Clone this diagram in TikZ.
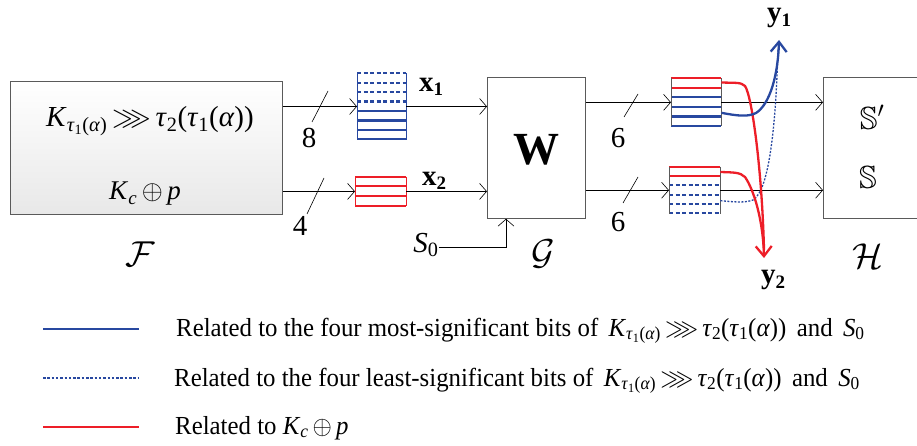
\documentclass[tikz,border=0pt]{standalone}
\usepackage{fix-cm}
\usepackage{amsmath,amssymb}
\usepackage{fontspec}
\setmainfont{Liberation Serif}
\usetikzlibrary{arrows.meta,calc}
\definecolor{myblue}{RGB}{40,72,160}
\definecolor{myred}{RGB}{237,30,40}
\definecolor{boxgray}{RGB}{90,90,90}
\newcommand{\bsub}[2]{\textbf{#1}\raisebox{-0.35ex}{\fontsize{19}{20}\selectfont\textbf{#2}}}
\newcommand{\Kexpr}{\textit{K}\textsubscript{\textit{τ}\textsubscript{1}(\textit{α})}\,$\ggg$\,\textit{τ}\textsubscript{2}(\textit{τ}\textsubscript{1}(\textit{α}))}
\newcommand{\Kcp}{\textit{K}\textsubscript{\textit{c}}\,$\oplus$\,\textit{p}}
\newcommand{\Szero}{\textit{S}\textsubscript{0}}
\begin{document}
\begin{tikzpicture}[x=1pt,y=-1pt,
  box/.style={draw=boxgray, line width=0.8pt, inner sep=0pt, anchor=north west},
  reg/.style={inner sep=0pt, anchor=north west},
  conn/.style={line width=0.6pt, -{Straight Barb[length=7pt,width=16pt,line width=0.6pt]}},
  slash/.style={line width=0.6pt},
  lbl/.style={inner sep=0pt, font=\fontsize{29}{32}\selectfont},
  num/.style={inner sep=0pt, font=\fontsize{29}{32}\selectfont},
  cal/.style={inner sep=0pt, font=\fontsize{36}{40}\selectfont},
  bitb/.style={myblue, line width=2.2pt},
  bitbd/.style={myblue, line width=2.2pt, dash pattern=on 4pt off 2.5pt},
  bitr/.style={myred, line width=2.2pt},
  legtxt/.style={inner sep=0pt, anchor=base west, font=\fontsize{26}{28}\selectfont}]
\useasboundingbox (0,0) rectangle (917,446);

% boxes
\node[box, minimum width=272pt, minimum height=133pt, top color=white, bottom color=black!9] (F) at (10,81) {};
\node[lbl] (Ftop) at (150,121) {\Kexpr};
\node[lbl, font=\fontsize{27}{30}\selectfont] (Fbot) at (145,194) {\Kcp};
\node[cal] (Fl) at (140,254) {$\mathcal{F}$};

\node[box, minimum width=98pt, minimum height=141pt] (G) at (487,77) {};
\node[inner sep=0pt, font=\fontsize{46}{50}\selectfont\bfseries] (W) at (536,150) {W};
\node[cal] (Gl) at (543,254) {$\mathcal{G}$};

\node[box, minimum width=94pt, minimum height=141pt] (H) at (823,77) {};
\node[lbl, font=\fontsize{32}{34}\selectfont] (S1) at (872,117) {$\mathbb{S}'$};
\node[lbl, font=\fontsize{32}{34}\selectfont] (S2) at (868,177) {$\mathbb{S}$};
\node[cal] (Hl) at (868,256) {$\mathcal{H}$};

% register x1
\node[reg, minimum width=49pt, minimum height=66pt] (rx1) at (357,73.3) {};
\foreach \i in {0,...,3} \draw[bitbd] ($(rx1.north west)+(0,\i*9.43)$) -- ++(49,0);
\foreach \i in {4,...,7} \draw[bitb] ($(rx1.north west)+(0,\i*9.43)$) -- ++(49,0);
\draw[myblue, line width=1pt] (rx1.north west) -- (rx1.south west) (rx1.north east) -- (rx1.south east);

% register x2
\node[reg, minimum width=51pt, minimum height=29pt] (rx2) at (355,176.7) {};
\foreach \i in {0,...,3} \draw[bitr] ($(rx2.north west)+(0,\i*9.67)$) -- ++(51,0);
\draw[myred, line width=1pt] (rx2.north west) -- (rx2.south west) (rx2.north east) -- (rx2.south east);

% register y1
\node[reg, minimum width=50pt, minimum height=47.7pt] (ry1) at (671,78.3) {};
\foreach \i in {0,1} \draw[bitr] ($(ry1.north west)+(0,\i*9.54)$) -- ++(50,0);
\foreach \i in {2,...,5} \draw[bitb] ($(ry1.north west)+(0,\i*9.54)$) -- ++(50,0);
\draw[boxgray, line width=1pt] (ry1.north west) -- (ry1.south west) (ry1.north east) -- (ry1.south east);

% register y2
\node[reg, minimum width=51pt, minimum height=46.7pt] (ry2) at (669,166.7) {};
\foreach \i in {0,1} \draw[bitr] ($(ry2.north west)+(0,\i*9.34)$) -- ++(51,0);
\foreach \i in {2,...,5} \draw[bitbd] ($(ry2.north west)+(0,\i*9.34)$) -- ++(51,0);
\draw[boxgray, line width=1pt] (ry2.north west) -- (ry2.south west) (ry2.north east) -- (ry2.south east);

% connectors
\draw[conn] (rx1.west -| F.east) -- (rx1.west);
\draw[conn] (rx2.west -| F.east) -- (rx2.west);
\draw[conn] (rx1.east) -- (rx1.east -| G.west);
\draw[conn] (rx2.east) -- (rx2.east -| G.west);
\draw[conn] (ry1.west -| G.east) -- (ry1.west);
\draw[conn] (ry2.west -| G.east) -- (ry2.west);
\draw[conn] (ry1.east) -- (ry1.east -| H.west);
\draw[conn] (ry2.east) -- (ry2.east -| H.west);

% slashes and widths
\draw[slash] (312,122) -- (328,91);
\draw[slash] (307,214) -- (324,178);
\draw[slash] (624,117) -- (638,94);
\draw[slash] (623,203) -- (638,177);
\node[num] (n8) at (309,138) {8};
\node[num] (n4) at (300,226) {4};
\node[num] (n6a) at (618,138) {6};
\node[num] (n6b) at (618,222) {6};

\node[num] (x1) at (431,87) {\bsub{x}{1}};
\node[num] (x2) at (434,181) {\bsub{x}{2}};

% S0 input
\node[lbl] (s0) at (426,245) {\Szero};
\coordinate (gin) at ($(G.south west)+(19,0)$);
\draw[conn] (s0.east |- 0,247) -| (gin);

% outputs
\node[num] (y1) at (779,18) {\bsub{y}{1}};
\node[num] (y2) at (773,280) {\bsub{y}{2}};
\coordinate (b0) at ($(ry1.north east)+(0,34.5)$);
\coordinate (r0) at ($(ry1.north east)+(0,4.2)$);
\coordinate (r1) at ($(ry2.north east)+(0,5.3)$);
\coordinate (d0) at ($(ry2.north east)+(0,34)$);
\coordinate (y1tip) at (779,40);
\coordinate (y2tip) at (764,258);
\draw[myblue, line width=1.3pt, dash pattern=on 2pt off 1.5pt] (d0) .. controls (735,202) and (745,203) .. (753,200) .. controls (770,190) and (776,120) .. (778,48);
\draw[myred, line width=2.3pt] (r0) .. controls (735,83) and (741,82) .. (745,86) .. controls (752,96) and (762,170) .. (764,250);
\draw[myred, line width=2.3pt, -{Straight Barb[length=10pt,width=16pt,line width=2.3pt]}] (r1) .. controls (733,172.5) and (740,172) .. (745,177) .. controls (754,190) and (763,220) .. (y2tip);
\draw[myblue, line width=2.3pt, -{Straight Barb[length=10pt,width=16pt,line width=2.3pt]}] (b0) .. controls (738,116) and (748,117) .. (756,113) .. controls (770,104) and (778,75) .. (y1tip);

% legend
\draw[myblue, line width=2.3pt] (43,329) -- (139,329);
\draw[myblue, line width=1.5pt, dash pattern=on 2.5pt off 1.8pt] (43,378) -- (139,378);
\draw[myred, line width=2.3pt] (43,427) -- (139,427);
\node[legtxt] (L1) at (176,336) {\scalebox{0.955}[1]{Related to the four most-significant bits of \,\Kexpr\, and \,\Szero}};
\node[legtxt] (L2) at (174,386) {\scalebox{0.955}[1]{Related to the four least-significant bits of \,\Kexpr\, and \,\Szero}};
\node[legtxt] (L3) at (175,434) {\scalebox{0.955}[1]{Related to \Kcp}};
\end{tikzpicture}
\end{document}
